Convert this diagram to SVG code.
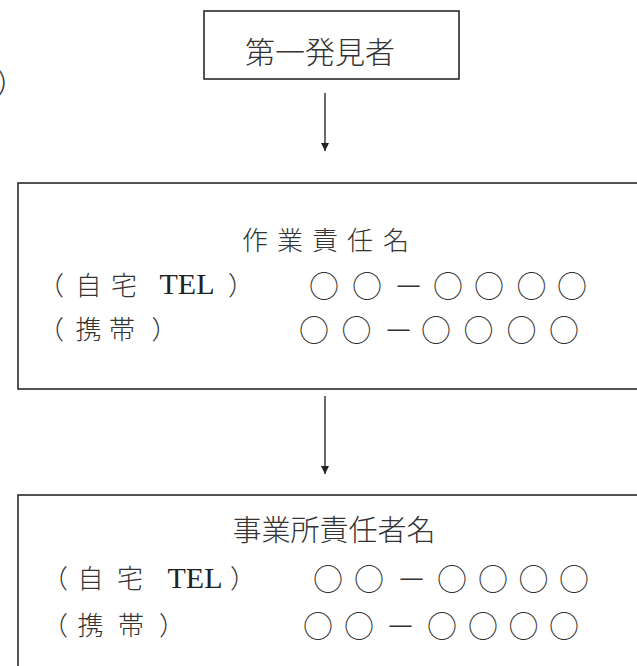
<svg xmlns="http://www.w3.org/2000/svg" width="637" height="666" viewBox="0 0 637 666">
<style>
.box{fill:none;stroke:#2a2a2a;stroke-width:1.6}
.line{stroke:#2a2a2a;stroke-width:1.4}
.jp{font-family:"Noto Sans CJK JP","Noto Sans CJK SC",sans-serif;fill:#333;text-anchor:middle;font-weight:300}
.lat{font-family:"Liberation Serif",serif;fill:#222;text-anchor:middle}
.c{font-size:30px}
</style>
<defs>
<marker id="ah" viewBox="0 0 10 10" refX="10" refY="5" markerWidth="8" markerHeight="8" markerUnits="userSpaceOnUse" orient="auto">
<path d="M0,0 L10,5 L0,10 z" fill="#222"/>
</marker>
</defs>
<rect width="637" height="666" fill="#fff"/>
<text class="jp" x="-4" y="94" font-size="30" style="text-anchor:start">）</text>
<g id="connectors">
<line class="line" x1="325" y1="93" x2="325" y2="151" marker-end="url(#ah)"/>
<line class="line" x1="325" y1="396" x2="325" y2="474" marker-end="url(#ah)"/>
</g>
<g id="first-finder">
<rect class="box" x="204" y="11" width="255" height="68"/>
<text class="jp" x="320" y="63" font-size="30">第一発見者</text>
</g>
<g id="work-manager">
<rect class="box" x="18" y="183" width="640" height="206"/>
<text class="jp" x="255 290 325 360 396" y="250" font-size="26">作業責任名</text>
<text class="jp" x="51 88.5 124" y="295" font-size="26">（自宅</text>
<text class="lat" x="187" y="294" font-size="30">TEL</text>
<text class="jp" x="241" y="295" font-size="26">）</text>
<text class="jp c" x="324 367 408.5 448 489 531.5 572" y="297">○○－○○○○</text>
<text class="jp" x="51 88.5 122 164.5" y="339" font-size="26">（携帯）</text>
<text class="jp c" x="314 356.5 398.5 436 478.5 521.5 564" y="341">○○－○○○○</text>
</g>
<g id="office-manager">
<rect class="box" x="18" y="495" width="640" height="200"/>
<text class="jp" x="334" y="541" font-size="29">事業所責任者名</text>
<text class="jp" x="55 90.5 130" y="588" font-size="26">（自宅</text>
<text class="lat" x="195" y="588" font-size="30">TEL</text>
<text class="jp" x="243" y="588" font-size="26">）</text>
<text class="jp c" x="328 369 411.5 452 493 533.5 574" y="590">○○－○○○○</text>
<text class="jp" x="55 90.5 131 172" y="635" font-size="26">（携帯）</text>
<text class="jp c" x="318 359 400.5 442 483 523.5 564" y="637">○○－○○○○</text>
</g>
</svg>
